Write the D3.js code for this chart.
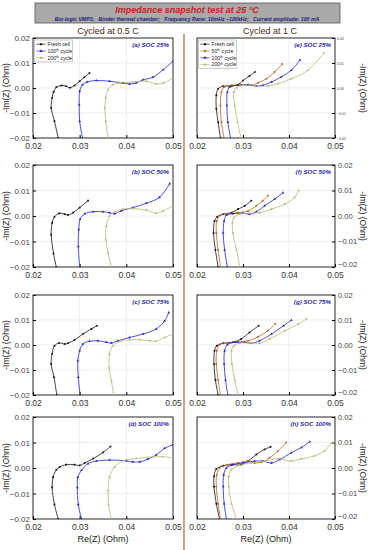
<!DOCTYPE html>
<html>
<head>
<meta charset="utf-8">
<script src="https://cdn.jsdelivr.net/npm/d3@7"></script>
<style>
  body { margin: 0; background: #fff; }
  text { font-family: "Liberation Sans", Arial, sans-serif; }
</style>
</head>
<body>
<script>
// Re(Z), -Im(Z) pairs (Ohm)
// cycled at 0.5 C
const aFresh = [[0.0254,-0.02],[0.0246,-0.0133],[0.0239,-0.008],[0.0241,-0.004],[0.0244,-0.0016],[0.025,0.0003],[0.0261,0.001],[0.0271,0.0007],[0.0279,0.0001],[0.0289,0.001],[0.030,0.0027],[0.031,0.0043],[0.0321,0.006]];
const a100 = [[0.0306,-0.02],[0.030,-0.0133],[0.0299,-0.0067],[0.030,-0.0013],[0.0306,0.0013],[0.0316,0.0024],[0.0336,0.003],[0.0364,0.0027],[0.0393,0.002],[0.0407,0.0016],[0.0421,0.002],[0.0436,0.0033],[0.0457,0.0043],[0.0479,0.0073],[0.050,0.0107]];
const a200 = [[0.0361,-0.02],[0.0356,-0.0133],[0.0354,-0.008],[0.0356,-0.004],[0.0361,-0.0007],[0.0371,0.0013],[0.0386,0.002],[0.0414,0.0024],[0.0443,0.0027],[0.0464,0.0016],[0.0479,0.002],[0.050,0.004]];

const bFresh = [[0.025,-0.02],[0.0244,-0.0147],[0.0239,-0.0073],[0.0241,-0.0027],[0.0246,-0.0003],[0.0256,0.001],[0.0268,0.0007],[0.0275,0.0004],[0.0286,0.0013],[0.030,0.0033],[0.0318,0.006]];
const b100 = [[0.030,-0.02],[0.0297,-0.012],[0.0298,-0.0053],[0.0301,-0.0013],[0.0311,0.0009],[0.0329,0.0017],[0.035,0.0017],[0.0364,0.0013],[0.0375,0.0009],[0.0389,0.002],[0.0414,0.0033],[0.0443,0.005],[0.0471,0.0073],[0.0493,0.0127]];
const b200 = [[0.0368,-0.02],[0.0361,-0.0147],[0.0356,-0.0093],[0.0357,-0.004],[0.0364,0],[0.0375,0.0016],[0.0393,0.0027],[0.0414,0.0029],[0.0443,0.0023],[0.0464,0.0011],[0.0479,0.002],[0.050,0.004]];

const cFresh = [[0.0251,-0.02],[0.0245,-0.0129],[0.0239,-0.0076],[0.0241,-0.0036],[0.0246,-0.0003],[0.0256,0.0008],[0.0268,0.0004],[0.0275,0.0007],[0.0289,0.002],[0.0307,0.0044],[0.0325,0.0064],[0.0337,0.0077]];
const c100 = [[0.0301,-0.02],[0.0297,-0.0129],[0.0296,-0.0063],[0.030,-0.0023],[0.0307,0.0004],[0.0321,0.0015],[0.0339,0.0017],[0.0357,0.0011],[0.0368,0.0008],[0.0382,0.0017],[0.0407,0.003],[0.0436,0.0044],[0.0464,0.0064],[0.0482,0.0096],[0.0491,0.013]];
const c200 = [[0.0373,-0.02],[0.0368,-0.0144],[0.0363,-0.0091],[0.0364,-0.0036],[0.0371,-0.0003],[0.0386,0.0015],[0.0407,0.0021],[0.0429,0.0021],[0.045,0.0017],[0.0464,0.0015],[0.0482,0.003],[0.050,0.0044]];

const dFresh = [[0.0254,-0.02],[0.0246,-0.0143],[0.0241,-0.0076],[0.0243,-0.0036],[0.025,-0.0007],[0.0257,0.0004],[0.0271,0.0013],[0.0289,0.0013],[0.030,0.001],[0.0311,0.002],[0.0329,0.0037],[0.035,0.0061],[0.0366,0.0084]];
const d100 = [[0.0304,-0.02],[0.0297,-0.0143],[0.0295,-0.0076],[0.0296,-0.0036],[0.0304,-0.0009],[0.0318,0.0017],[0.0336,0.0027],[0.0364,0.0031],[0.040,0.0028],[0.0414,0.0024],[0.0429,0.0024],[0.0446,0.0035],[0.0464,0.0051],[0.0482,0.0077],[0.050,0.0091]];
const d200 = [[0.0368,-0.02],[0.0362,-0.0143],[0.0361,-0.0089],[0.0364,-0.0036],[0.0375,0.0004],[0.0393,0.0028],[0.0421,0.0037],[0.0457,0.0044],[0.0479,0.0044],[0.050,0.004]];

// cycled at 1 C
const eFresh = [[0.0251,-0.02],[0.0246,-0.0137],[0.0242,-0.0083],[0.0242,-0.0029],[0.0246,-0.0003],[0.0257,0.0007],[0.0275,0.0008],[0.0289,0.0013],[0.030,0.003],[0.0314,0.0048],[0.0326,0.0064]];
const e50 = [[0.0259,-0.02],[0.0253,-0.0137],[0.0251,-0.007],[0.0253,-0.0016],[0.0259,0.0004],[0.0275,0.0011],[0.0296,0.0013],[0.0318,0.0011],[0.0333,0.0021],[0.0351,0.0037],[0.0369,0.0064],[0.0385,0.0096]];
const e100 = [[0.0273,-0.02],[0.0267,-0.0137],[0.0265,-0.007],[0.0266,-0.0016],[0.0271,0.0004],[0.0289,0.0011],[0.0311,0.0013],[0.0329,0.0008],[0.0343,0.0011],[0.0362,0.0024],[0.0383,0.0044],[0.0405,0.0071],[0.0424,0.0112]];
const e200 = [[0.0296,-0.02],[0.0288,-0.0137],[0.0282,-0.007],[0.028,-0.0016],[0.0286,0.0001],[0.030,0.0011],[0.0325,0.0008],[0.0354,0.0008],[0.0376,0.0017],[0.0405,0.0037],[0.0441,0.0071],[0.0476,0.014]];

const fFresh = [[0.0246,-0.02],[0.024,-0.0133],[0.0236,-0.0067],[0.0238,-0.002],[0.0244,-0.0003],[0.0257,0.0007],[0.0275,0.0013],[0.0289,0.0027],[0.0304,0.004],[0.0318,0.006]];
const f50 = [[0.0251,-0.02],[0.0246,-0.0133],[0.0242,-0.0067],[0.0243,-0.002],[0.0251,0.0003],[0.0267,0.0009],[0.0289,0.0013],[0.0311,0.002],[0.0329,0.004],[0.0343,0.006],[0.0354,0.008]];
const f100 = [[0.0266,-0.02],[0.026,-0.0133],[0.0257,-0.0067],[0.0259,-0.002],[0.0264,0.0003],[0.0278,0.0009],[0.030,0.0011],[0.0314,0.0007],[0.0329,0.0017],[0.0347,0.004],[0.0369,0.0067],[0.0387,0.0091]];
const f200 = [[0.0293,-0.02],[0.0286,-0.0133],[0.0278,-0.0067],[0.0277,-0.0027],[0.028,-0.0007],[0.0293,0.0007],[0.0314,0.0011],[0.0336,0.0013],[0.0362,0.0027],[0.0391,0.0047],[0.0412,0.0073],[0.0421,0.01]];

const gFresh = [[0.0246,-0.02],[0.024,-0.014],[0.0237,-0.0076],[0.0238,-0.0023],[0.0243,-0.0003],[0.0257,0.0007],[0.0278,0.0011],[0.0296,0.0024],[0.0314,0.005],[0.0334,0.0077]];
const g50 = [[0.0251,-0.02],[0.0246,-0.014],[0.0242,-0.0076],[0.0243,-0.0023],[0.0249,0.0001],[0.0267,0.0008],[0.0289,0.0011],[0.0311,0.0017],[0.0333,0.0033],[0.0354,0.0057],[0.037,0.0084]];
const g100 = [[0.0267,-0.02],[0.0262,-0.014],[0.0259,-0.0076],[0.026,-0.0023],[0.0266,0.0001],[0.0283,0.0011],[0.0304,0.0011],[0.0318,0.0007],[0.0336,0.0017],[0.0362,0.0044],[0.0388,0.0077],[0.0405,0.0099]];
const g200 = [[0.0289,-0.02],[0.0282,-0.014],[0.0276,-0.0076],[0.0275,-0.0023],[0.028,-0.0003],[0.0293,0.0007],[0.0318,0.0008],[0.0336,0.0007],[0.0358,0.0024],[0.0391,0.0057],[0.042,0.0084],[0.0438,0.0104]];

const hFresh = [[0.0249,-0.02],[0.0242,-0.014],[0.0237,-0.0073],[0.0237,-0.0033],[0.0242,-0.0004],[0.0257,0.0009],[0.0275,0.0013],[0.0296,0.0013],[0.0311,0.0027],[0.0329,0.0053],[0.0347,0.0073],[0.036,0.0083]];
const h50 = [[0.0251,-0.02],[0.0246,-0.014],[0.0242,-0.0073],[0.0243,-0.0027],[0.0249,0],[0.0267,0.0013],[0.0289,0.002],[0.0311,0.0027],[0.0325,0.002],[0.034,0.0023],[0.0358,0.004],[0.0376,0.0067],[0.0394,0.01]];
const h100 = [[0.0264,-0.02],[0.0259,-0.014],[0.0257,-0.0073],[0.0258,-0.0027],[0.0264,0],[0.0278,0.0013],[0.030,0.002],[0.0325,0.0027],[0.0343,0.0027],[0.0362,0.002],[0.038,0.0033],[0.0405,0.006],[0.0427,0.008],[0.0445,0.0103]];
const h200 = [[0.0286,-0.02],[0.0275,-0.014],[0.0269,-0.0073],[0.0269,-0.0033],[0.0275,-0.0007],[0.0293,0.0011],[0.0318,0.002],[0.0347,0.0027],[0.0376,0.0036],[0.0405,0.0027],[0.0427,0.0036],[0.0455,0.0047],[0.0477,0.0067],[0.0492,0.0097],[0.0498,0.0103]];

const xTicks = [0.02, 0.03, 0.04, 0.05];
const yTicks = [-0.02, -0.01, 0.00, 0.01, 0.02];
const leftLabels = ['(a) SOC 25%', '(b) SOC 50%', '(c) SOC 75%', '(d) SOC 100%'];
const rightLabels = ['(e) SOC 25%', '(f) SOC 50%', '(g) SOC 75%', '(h) SOC 100%'];
const leftNames = ['Fresh cell', '100th cycle', '200th cycle'];
const rightNames = ['Fresh cell', '50th cycle', '100th cycle', '200th cycle'];

const colFresh = '#111', col50 = '#b8652e', col100 = '#2323c8', col200 = '#b6b87a';

const W = 371, H = 550;
const svg = d3.select('body').append('svg').attr('width', W).attr('height', H);

// header box
svg.append('rect').attr('x', 35).attr('y', 3).attr('width', 305).attr('height', 20)
  .attr('fill', '#a9a9a9').attr('stroke', '#555').attr('stroke-width', 0.8);
svg.append('text').attr('x', 187).attr('y', 13).attr('text-anchor', 'middle')
  .style('font-size', '9px').style('font-weight', 'bold').style('font-style', 'italic')
  .attr('fill', '#c8201e').text('Impedance snapshot test at 25 °C');
svg.append('text').attr('x', 187).attr('y', 20.5).attr('text-anchor', 'middle')
  .style('font-size', '5.2px').style('font-weight', 'bold').style('font-style', 'italic')
  .attr('fill', '#1c1c7a').attr('xml:space', 'preserve')
  .text('Bio-logic VMP3;   Binder thermal chamber;   Frequency Rane: 10mHz ~100kHz;   Current amplitude: 100 mA');

svg.append('text').attr('x', 108).attr('y', 34).attr('text-anchor', 'middle')
  .style('font-size', '9px').attr('fill', '#4a2a14').text('Cycled at 0.5 C');
svg.append('text').attr('x', 270).attr('y', 34).attr('text-anchor', 'middle')
  .style('font-size', '9px').attr('fill', '#4a2a14').text('Cycled at 1 C');

// divider
svg.append('line').attr('x1', 184).attr('x2', 184).attr('y1', 34).attr('y2', 550)
  .attr('stroke', '#b0643a').attr('stroke-width', 1.2);

const rows = [[38, 138], [165, 267], [295, 395], [417, 519]];

const line = d3.line().curve(d3.curveCatmullRom.alpha(0.5));

function drawPanel(px0, px1, row, series, label, side, legendNames, tinyY, showXTitle, idx) {
  const x = d3.scaleLinear().domain([0.02, 0.05]).range([px0, px1]);
  const y = d3.scaleLinear().domain([-0.02, 0.02]).range([row[1], row[0]]);
  const g = svg.append('g');

  const clipId = 'clip' + side + idx;
  g.append('clipPath').attr('id', clipId).append('rect')
    .attr('x', px0).attr('y', row[0]).attr('width', px1 - px0).attr('height', row[1] - row[0]);

  // grid
  g.selectAll('.gx').data(xTicks.slice(1, -1)).enter().append('line')
    .attr('x1', d => x(d)).attr('x2', d => x(d)).attr('y1', row[0]).attr('y2', row[1])
    .attr('stroke', '#e2e2e2').attr('stroke-width', 0.6);
  g.selectAll('.gy').data(yTicks.slice(1, -1)).enter().append('line')
    .attr('y1', d => y(d)).attr('y2', d => y(d)).attr('x1', px0).attr('x2', px1)
    .attr('stroke', '#e2e2e2').attr('stroke-width', 0.6);

  // axes
  g.append('g').attr('transform', `translate(0,${row[1]})`)
    .call(d3.axisBottom(x).tickValues(xTicks).tickFormat(d3.format('.2f')).tickSize(-3).tickPadding(5))
    .call(a => a.select('.domain').remove())
    .call(a => a.selectAll('text').style('font-size', '8.5px').attr('fill', '#333'));

  const yAxis = side === 'L'
    ? d3.axisLeft(y).tickSize(-3).tickPadding(3)
    : d3.axisRight(y).tickSize(-3).tickPadding(tinyY ? 2 : 3);
  const ya = g.append('g').attr('transform', `translate(${side === 'L' ? px0 : px1},0)`)
    .call(yAxis.tickValues(yTicks).tickFormat(d3.format('.2f')))
    .call(a => a.select('.domain').remove())
    .call(a => a.selectAll('text').style('font-size', tinyY ? '3.6px' : (side === 'L' ? '8px' : '7.6px')).attr('fill', '#444'));
  if (side === 'R' && !tinyY) {
    // nudge the bottom label clear of the x tick label below it
    ya.selectAll('.tick').filter(d => d === -0.02).select('text').attr('dy', '-0.05em');
  }

  g.append('rect').attr('x', px0).attr('y', row[0]).attr('width', px1 - px0).attr('height', row[1] - row[0])
    .attr('fill', 'none').attr('stroke', '#111').attr('stroke-width', 0.9);

  // y title
  const cy = (row[0] + row[1]) / 2;
  if (side === 'L') {
    g.append('text').attr('transform', `translate(9,${cy}) rotate(-90)`).attr('text-anchor', 'middle')
      .style('font-size', '8.5px').attr('fill', '#222').text('-Im(Z) (Ohm)');
  } else {
    g.append('text').attr('transform', `translate(360,${cy}) rotate(90)`).attr('text-anchor', 'middle')
      .style('font-size', '8.5px').attr('fill', '#222').text('-Im(Z) (Ohm)');
  }
  if (showXTitle) {
    g.append('text').attr('x', (px0 + px1) / 2).attr('y', row[1] + 23).attr('text-anchor', 'middle')
      .style('font-size', '9px').attr('fill', '#222').text('Re(Z) (Ohm)');
  }

  // curves
  const plot = g.append('g').attr('clip-path', `url(#${clipId})`);
  series.forEach(s => {
    plot.append('path').attr('d', line(s.data.map(d => [x(d[0]), y(d[1])])))
      .attr('fill', 'none').attr('stroke', s.color).attr('stroke-width', 0.8);
    plot.selectAll(null).data(s.data).enter().append('path')
      .attr('transform', d => `translate(${x(d[0])},${y(d[1])})`)
      .attr('d', d3.symbol().type(s.symbol).size(3))
      .attr('fill', s.color);
  });

  // panel label
  g.append('text').attr('x', px1 - 4).attr('y', row[0] + 9).attr('text-anchor', 'end')
    .style('font-size', '6.2px').style('font-weight', 'bold').style('font-style', 'italic')
    .attr('fill', '#2a2a9c').text(label);

  // legend
  if (legendNames) {
    const lx = px0 + 1.5, ly = row[0] + 2, rowH = 6.8;
    g.append('rect').attr('x', lx).attr('y', ly).attr('width', 38).attr('height', legendNames.length * rowH + 1.5)
      .attr('fill', '#fff').attr('stroke', '#999').attr('stroke-width', 0.5);
    legendNames.forEach((n, i) => {
      const yy = ly + 4.2 + i * rowH;
      const s = series[i];
      g.append('line').attr('x1', lx + 2).attr('x2', lx + 11).attr('y1', yy).attr('y2', yy)
        .attr('stroke', s.color).attr('stroke-width', 0.7);
      g.append('path').attr('transform', `translate(${lx + 6.5},${yy})`)
        .attr('d', d3.symbol().type(s.symbol).size(4)).attr('fill', s.color);
      const m = n.match(/^(\d+)(th)( cycle)$/);
      const t = g.append('text').attr('x', lx + 13).attr('y', yy + 1.8)
        .style('font-size', '5.2px').attr('fill', '#222');
      if (m) {
        t.append('tspan').text(m[1]);
        t.append('tspan').attr('dy', -1.6).style('font-size', '3.4px').text(m[2]);
        t.append('tspan').attr('dy', 1.6).text(m[3]);
      } else {
        t.text(n);
      }
    });
  }
}

const leftSets = [[aFresh, a100, a200], [bFresh, b100, b200], [cFresh, c100, c200], [dFresh, d100, d200]];
const rightSets = [[eFresh, e50, e100, e200], [fFresh, f50, f100, f200], [gFresh, g50, g100, g200], [hFresh, h50, h100, h200]];

leftSets.forEach((set, i) => {
  const series = [
    { data: set[0], color: colFresh, symbol: d3.symbolSquare },
    { data: set[1], color: col100, symbol: d3.symbolTriangle },
    { data: set[2], color: col200, symbol: d3.symbolTriangle }
  ];
  drawPanel(33, 173, rows[i], series, leftLabels[i], 'L', i === 0 ? leftNames : null, false, i === 3, i);
});

rightSets.forEach((set, i) => {
  const series = [
    { data: set[0], color: colFresh, symbol: d3.symbolSquare },
    { data: set[1], color: col50, symbol: d3.symbolCircle },
    { data: set[2], color: col100, symbol: d3.symbolTriangle },
    { data: set[3], color: col200, symbol: d3.symbolTriangle }
  ];
  drawPanel(197, 335, rows[i], series, rightLabels[i], 'R', i === 0 ? rightNames : null, i === 0, i === 3, i);
});
</script>
</body>
</html>
